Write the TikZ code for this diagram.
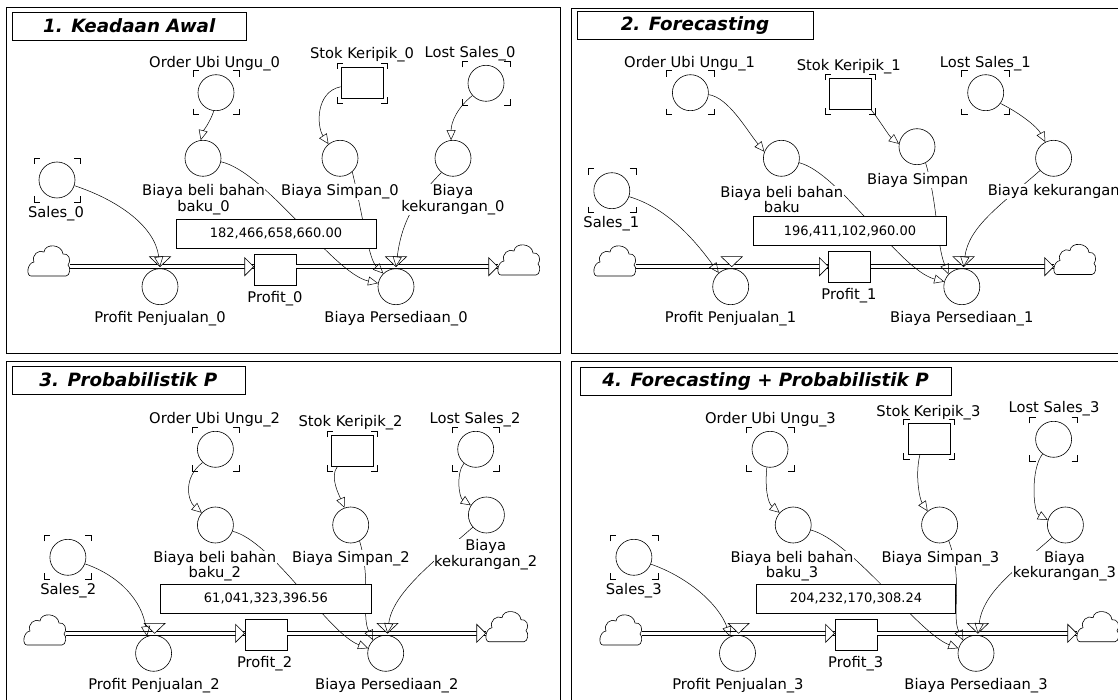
\documentclass[tikz,border=0pt]{standalone}
\usepackage{fontspec}
\setmainfont{DejaVu Sans}[ItalicFont={DejaVu Sans Oblique},BoldFont={DejaVu Sans Bold},BoldItalicFont={DejaVu Sans Bold Oblique}]
\usetikzlibrary{arrows.meta}
\newcommand{\lblfont}{\fontsize{14.7}{15.6}\selectfont}
\newcommand{\numfont}{\fontsize{13}{15}\selectfont}
\newcommand{\ttlfont}{\fontsize{18.3}{20}\selectfont\bfseries\itshape}
\newcommand{\ghost}[3]{%
  \draw (#1.center) +(-#2,-#3+6) -- +(-#2,-#3) -- +(-#2+6,-#3);
  \draw (#1.center) +(#2-6,-#3) -- +(#2,-#3) -- +(#2,-#3+6);
  \draw (#1.center) +(-#2,#3-6) -- +(-#2,#3) -- +(-#2+6,#3);
  \draw (#1.center) +(#2-6,#3) -- +(#2,#3) -- +(#2,#3-6);}
\newcommand{\valve}[1]{\draw[fill=white] (#1) -- +(-10.5,-10) -- +(10.5,-10) -- cycle;}
\newcommand{\flowtip}[1]{\draw[fill=white] (#1) -- +(-9,-9) -- +(-9,9) -- cycle;}
\newcommand{\cloudat}[1]{\draw[fill=white,shift={(#1.center)}] (-18,15) -- (17,15)
  .. controls (21,15) and (22,6) .. (19,4) .. controls (23,-2) and (19,-8) .. (14,-7)
  .. controls (13,-17) and (-4,-18) .. (-5,-9) .. controls (-10,-12) and (-18,-6) .. (-15,1)
  .. controls (-22,2) and (-23,15) .. (-18,15) -- cycle;}

\begin{document}
\begin{tikzpicture}[x=1pt,y=-1pt,line width=0.6pt,
  aux/.style={circle,draw,minimum size=36pt,inner sep=0pt,name=#1},
  stock/.style={draw,minimum width=42pt,minimum height=31pt,inner sep=0pt,name=#1},
  src/.style={minimum width=42pt,minimum height=31pt,inner sep=0pt,name=#1},
  lbl/.style={font=\lblfont,fill=white,inner sep=0.5pt,align=center},
  disp/.style={draw,fill=white,minimum height=29pt,font=\numfont},
  ttl/.style={draw,minimum height=28pt,font=\ttlfont},
  link/.style={line width=0.5pt,-{Triangle[open,length=10pt,width=9pt]}},
  pipe/.style={double,double distance=2.8pt,line width=0.8pt}]
  \useasboundingbox (0,0) rectangle (1118,700);
  \fill[white] (0,0) rectangle (1118,700);

  % 1. Keadaan Awal
  \draw[line width=0.9pt] (6.4,7.3) rectangle (560,353.3);
  \node[ttl,minimum width=234pt] (title0) at (129.2,26) {1. Keadaan Awal};
  \node[aux=order0] at (216,92.7) {};
  \node[aux=beli0] at (203,158.3) {};
  \node[stock=stok0] at (362,83) {};
  \node[aux=lost0] at (486,83.3) {};
  \node[aux=simpan0] at (340,158.3) {};
  \node[aux=kek0] at (453,158.3) {};
  \node[aux=sales0] at (57,180) {};
  \node[src=cloudl0] at (49,261) {};
  \node[src=cloudr0] at (519,260) {};
  \node[stock=prof0] at (275,269.7) {};
  \node[aux=pp0] at (160,286.7) {};
  \node[aux=pers0] at (396,286.7) {};
  \coordinate (vpp0) at (160,266.7);
  \coordinate (vpers0) at (396,266.7);
  \cloudat{cloudl0} \cloudat{cloudr0}
  \draw[pipe] (cloudl0.east |- vpp0) -- (prof0.west |- vpp0);
  \draw[pipe] (prof0.east |- vpp0) -- (cloudr0.west |- vpp0);
  \flowtip{prof0.west |- vpp0}
  \flowtip{cloudr0.west |- vpp0}
  \valve{vpp0}
  \valve{vpers0}
  \draw[link] (order0.-97) .. controls +(-3,10) and +(2,-8) .. (beli0.97);
  \draw[link] (stok0.190) .. controls +(-25,5) and +(-12,-18) .. (simpan0.129);
  \draw[link] (lost0.-138) .. controls +(-15,12) and +(0,-18) .. (kek0.96);
  \draw[link] (sales0.-18) .. controls +(45,15) and +(-5,-40) .. (vpp0);
  \draw[link] (beli0.-11) .. controls +(45,10) and +(-45,-10) .. (pers0.169);
  \draw[link] (simpan0.-48) .. controls +(10,40) and +(-15,-15) .. (pers0.134);
  \draw[link] (kek0.-129) .. controls +(-30,30) and +(5,-40) .. (vpers0);
  \node[disp,minimum width=200pt] (disp0) at (276,233.7) {182,466,658,660.00};
  \node[lbl] (lorder0) at (214.6,63.3) {Order Ubi Ungu\_0};
  \node[lbl] (lbeli0) at (203.6,199.5) {Biaya beli bahan\\baku\_0};
  \node[lbl] (lstok0) at (362,55) {Stok Keripik\_0};
  \node[lbl] (llost0) at (470,53.3) {Lost Sales\_0};
  \node[lbl] (lsimpan0) at (340,191.7) {Biaya Simpan\_0};
  \node[lbl] (lkek0) at (453,199.5) {Biaya\\kekurangan\_0};
  \node[lbl] (lsales0) at (56,213.3) {Sales\_0};
  \node[lbl] (lprof0) at (275,299) {Profit\_0};
  \node[lbl] (lpp0) at (160,318.3) {Profit Penjualan\_0};
  \node[lbl] (lpers0) at (396,318.3) {Biaya Persediaan\_0};
  \ghost{order0}{23}{22} \ghost{stok0}{25}{20} \ghost{lost0}{24}{22} \ghost{sales0}{23}{22}

  % 2. Forecasting
  \draw[line width=0.9pt] (571.7,8.3) rectangle (1130,353.3);
  \node[ttl,minimum width=236pt] (title1) at (695,25.8) {2. Forecasting};
  \node[aux=order1] at (690.4,92.7) {};
  \node[aux=beli1] at (781.4,158.3) {};
  \node[stock=stok1] at (850,94.2) {};
  \node[aux=lost1] at (985.7,92.7) {};
  \node[aux=simpan1] at (917,146.7) {};
  \node[aux=kek1] at (1053.6,158.3) {};
  \node[aux=sales1] at (611.8,190.7) {};
  \node[src=cloudl1] at (615,261) {};
  \node[src=cloudr1] at (1075,259.5) {};
  \node[stock=prof1] at (849.7,267.3) {};
  \node[aux=pp1] at (730.7,286.7) {};
  \node[aux=pers1] at (961.8,286.7) {};
  \coordinate (vpp1) at (731.7,266.7);
  \coordinate (vpers1) at (963.6,266.7);
  \cloudat{cloudl1} \cloudat{cloudr1}
  \draw[pipe] (cloudl1.east |- vpp1) -- (prof1.west |- vpp1);
  \draw[pipe] (prof1.east |- vpp1) -- (cloudr1.west |- vpp1);
  \flowtip{prof1.west |- vpp1}
  \flowtip{cloudr1.west |- vpp1}
  \valve{vpp1}
  \valve{vpers1}
  \draw[link] (order1.-6) .. controls +(20,3) and +(-18,-22) .. (beli1.159);
  \draw[link] (stok1.south east) .. controls +(8,10) and +(-10,-8) .. (simpan1.171);
  \draw[link] (lost1.-36) .. controls +(20,10) and +(-8,-15) .. (kek1.117);
  \draw[link] (sales1.-19) .. controls +(40,12) and +(-22,-30) .. (pp1.131);
  \draw[link] (beli1.-14) .. controls +(40,10) and +(-45,-12) .. (pers1.164);
  \draw[link] (simpan1.-62) .. controls +(12,40) and +(-12,-30) .. (pers1.137);
  \draw[link] (kek1.-138) .. controls +(-40,35) and +(5,-40) .. (vpers1);
  \node[disp,minimum width=192.8pt] (disp1) at (850,231.2) {196,411,102,960.00};
  \node[lbl] (lorder1) at (689.6,63.3) {Order Ubi Ungu\_1};
  \node[lbl] (lbeli1) at (781.8,199.5) {Biaya beli bahan\\baku};
  \node[lbl] (lstok1) at (848.8,66.7) {Stok Keripik\_1};
  \node[lbl] (llost1) at (985.4,63.3) {Lost Sales\_1};
  \node[lbl] (lsimpan1) at (917.7,180) {Biaya Simpan};
  \node[lbl] (lkek1) at (1053.75,191.7) {Biaya kekurangan};
  \node[lbl] (lsales1) at (611.4,224) {Sales\_1};
  \node[lbl] (lprof1) at (849,296) {Profit\_1};
  \node[lbl] (lpp1) at (730.5,318.3) {Profit Penjualan\_1};
  \node[lbl] (lpers1) at (961.8,318.3) {Biaya Persediaan\_1};
  \ghost{order1}{24}{22} \ghost{stok1}{25}{20} \ghost{lost1}{24}{22} \ghost{sales1}{24}{22}

  % 3. Probabilistik P
  \draw[line width=0.9pt] (6.4,361.7) rectangle (560,710);
  \node[ttl,minimum width=233pt] (title2) at (128.4,380) {3. Probabilistik P};
  \node[aux=order2] at (215.4,449.3) {};
  \node[aux=beli2] at (215.4,525) {};
  \node[stock=stok2] at (352,451) {};
  \node[aux=lost2] at (475.7,449.3) {};
  \node[aux=simpan2] at (350.7,525) {};
  \node[aux=kek2] at (486.4,515) {};
  \node[aux=sales2] at (67.9,557.3) {};
  \node[src=cloudl2] at (45,630) {};
  \node[src=cloudr2] at (507,626.7) {};
  \node[stock=prof2] at (265.9,634.3) {};
  \node[aux=pp2] at (153.6,653.3) {};
  \node[aux=pers2] at (385.7,653.3) {};
  \coordinate (vpp2) at (154.6,633.3);
  \coordinate (vpers2) at (387.5,633.3);
  \cloudat{cloudl2} \cloudat{cloudr2}
  \draw[pipe] (cloudl2.east |- vpp2) -- (prof2.west |- vpp2);
  \draw[pipe] (prof2.east |- vpp2) -- (cloudr2.west |- vpp2);
  \flowtip{prof2.west |- vpp2}
  \flowtip{cloudr2.west |- vpp2}
  \valve{vpp2}
  \valve{vpers2}
  \draw[link] (order2.-134) .. controls +(-20,15) and +(-14,-12) .. (beli2.138);
  \draw[link] (stok2.-133) .. controls +(-8,10) and +(-5,-12) .. (simpan2.110);
  \draw[link] (lost2.-130) .. controls +(-8,10) and +(-12,-8) .. (kek2.148);
  \draw[link] (sales2.-21) .. controls +(35,12) and +(-5,-35) .. (pp2.111);
  \draw[link] (beli2.-20) .. controls +(40,10) and +(-40,-15) .. (pers2.164);
  \draw[link] (simpan2.-61) .. controls +(12,40) and +(-12,-25) .. (pers2.134);
  \draw[link] (kek2.-138) .. controls +(-40,35) and +(5,-40) .. (vpers2);
  \node[disp,minimum width=210.7pt] (disp2) at (266,598.3) {61,041,323,396.56};
  \node[lbl] (lorder2) at (214.6,420) {Order Ubi Ungu\_2};
  \node[lbl] (lbeli2) at (214.8,566.2) {Biaya beli bahan\\baku\_2};
  \node[lbl] (lstok2) at (350.5,422.7) {Stok Keripik\_2};
  \node[lbl] (llost2) at (475,420) {Lost Sales\_2};
  \node[lbl] (lsimpan2) at (351,558.3) {Biaya Simpan\_2};
  \node[lbl] (lkek2) at (485.7,554.8) {Biaya\\kekurangan\_2};
  \node[lbl] (lsales2) at (68.2,590.7) {Sales\_2};
  \node[lbl] (lprof2) at (264.6,663.3) {Profit\_2};
  \node[lbl] (lpp2) at (154,686) {Profit Penjualan\_2};
  \node[lbl] (lpers2) at (386.8,686) {Biaya Persediaan\_2};
  \ghost{order2}{23.5}{22} \ghost{stok2}{25}{20} \ghost{lost2}{23.5}{22} \ghost{sales2}{23.5}{22}

  % 4. Forecasting + Probabilistik P
  \draw[line width=0.9pt] (571.7,361.7) rectangle (1130,710);
  \node[ttl,minimum width=371pt] (title3) at (765.5,381.5) {4. Forecasting + Probabilistik P};
  \node[aux=order3] at (770,449.3) {};
  \node[aux=beli3] at (793.2,525) {};
  \node[stock=stok3] at (929,439) {};
  \node[aux=lost3] at (1053.6,439.3) {};
  \node[aux=simpan3] at (939.6,525) {};
  \node[aux=kek3] at (1065.4,525) {};
  \node[aux=sales3] at (633.9,557.3) {};
  \node[src=cloudl3] at (621,630) {};
  \node[src=cloudr3] at (1098,626.7) {};
  \node[stock=prof3] at (855.9,634.3) {};
  \node[aux=pp3] at (737.5,653.3) {};
  \node[aux=pers3] at (976,653.3) {};
  \coordinate (vpp3) at (738.6,633.3);
  \coordinate (vpers3) at (977.9,633.3);
  \cloudat{cloudl3} \cloudat{cloudr3}
  \draw[pipe] (cloudl3.east |- vpp3) -- (prof3.west |- vpp3);
  \draw[pipe] (prof3.east |- vpp3) -- (cloudr3.west |- vpp3);
  \flowtip{prof3.west |- vpp3}
  \flowtip{cloudr3.west |- vpp3}
  \valve{vpp3}
  \valve{vpers3}
  \draw[link] (order3.-100) .. controls +(-2,20) and +(-12,-10) .. (beli3.138);
  \draw[link] (stok3.-120) .. controls +(-5,20) and +(-8,-12) .. (simpan3.131);
  \draw[link] (lost3.-127) .. controls +(-12,15) and +(-15,-8) .. (kek3.164);
  \draw[link] (sales3.-22) .. controls +(40,14) and +(-10,-30) .. (pp3.114);
  \draw[link] (beli3.-16) .. controls +(40,10) and +(-40,-15) .. (pers3.164);
  \draw[link] (simpan3.-60) .. controls +(15,40) and +(-12,-25) .. (pers3.135);
  \draw[link] (kek3.-137) .. controls +(-40,35) and +(5,-40) .. (vpers3);
  \node[disp,minimum width=199.7pt] (disp3) at (855.9,598.3) {204,232,170,308.24};
  \node[lbl] (lorder3) at (770.4,420) {Order Ubi Ungu\_3};
  \node[lbl] (lbeli3) at (792,566.2) {Biaya beli bahan\\baku\_3};
  \node[lbl] (lstok3) at (928.4,412.7) {Stok Keripik\_3};
  \node[lbl] (llost3) at (1054,408.3) {Lost Sales\_3};
  \node[lbl] (lsimpan3) at (940.4,558.3) {Biaya Simpan\_3};
  \node[lbl] (lkek3) at (1064.5,566.2) {Biaya\\kekurangan\_3};
  \node[lbl] (lsales3) at (633.75,590.7) {Sales\_3};
  \node[lbl] (lprof3) at (855.7,663.3) {Profit\_3};
  \node[lbl] (lpp3) at (737.9,686) {Profit Penjualan\_3};
  \node[lbl] (lpers3) at (976,686) {Biaya Persediaan\_3};
  \ghost{order3}{24}{22} \ghost{stok3}{25.5}{20} \ghost{lost3}{24}{22} \ghost{sales3}{24}{22}
\end{tikzpicture}
\end{document}
